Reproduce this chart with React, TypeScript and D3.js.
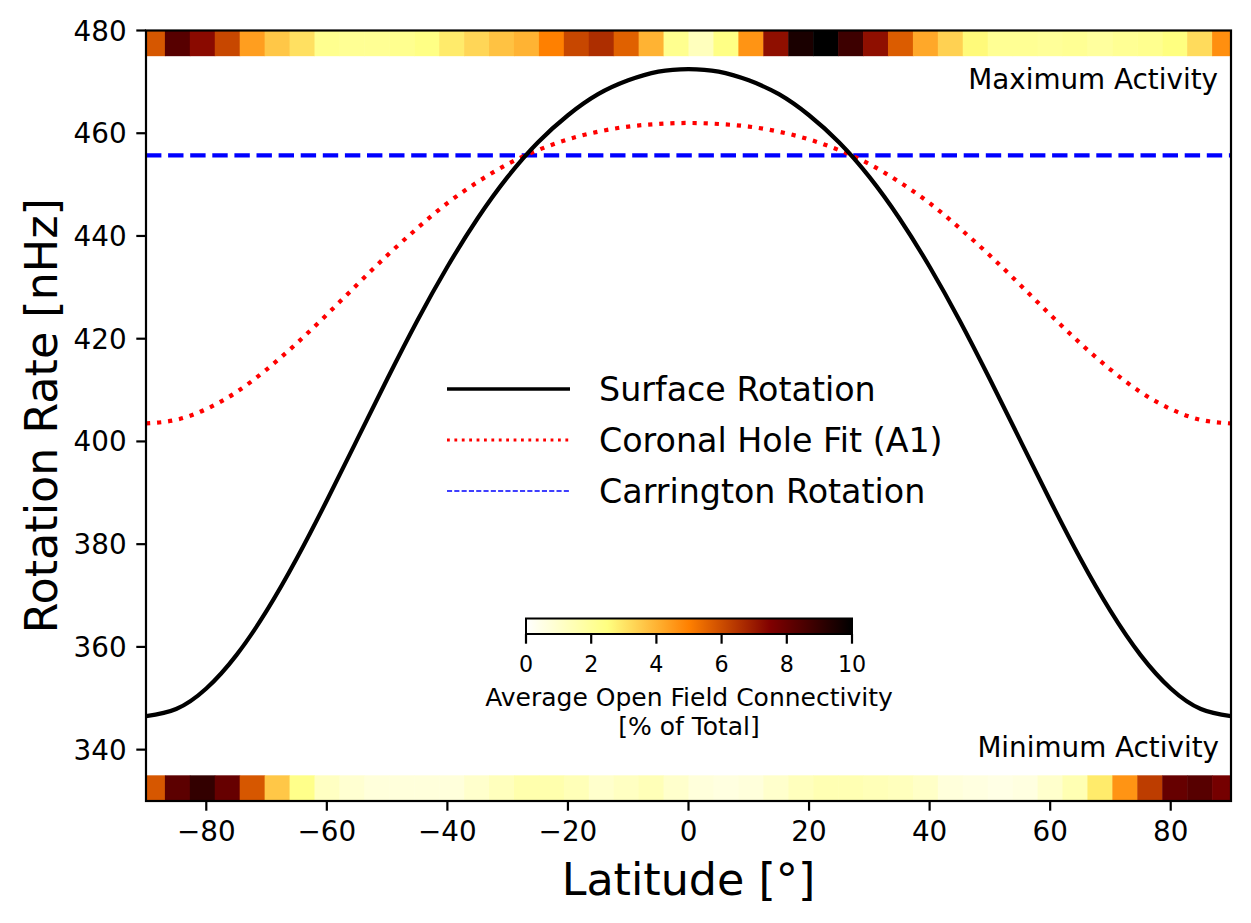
import React from "react";
import * as d3 from "d3";

// Latitude samples (degrees) for the rotation profiles
const LAT_SAMPLES = [
  -90, -85, -80, -75, -70, -65, -60, -55, -50, -45, -40, -35, -30, -25, -20, -15, -10, -5,
  0, 5, 10, 15, 20, 25, 30, 35, 40, 45, 50, 55, 60, 65, 70, 75, 80, 85, 90,
];

// Photospheric differential rotation [nHz]
const SURFACE_RATE = [
  346.5, 347.9, 351.9, 358.4, 367.0, 377.2, 388.5, 400.3, 412.1, 423.5, 434.0, 443.4, 451.5, 458.2, 463.5, 467.6, 470.3, 472.0,
  472.5, 472.0, 470.3, 467.6, 463.5, 458.2, 451.5, 443.4, 434.0, 423.5, 412.1, 400.3, 388.5, 377.2, 367.0, 358.4, 351.9, 347.9, 346.5,
];

// Coronal hole rotation fit (A1) [nHz]
const CORONAL_FIT_RATE = [
  403.5, 404.2, 406.3, 409.6, 414.0, 419.1, 424.7, 430.5, 436.2, 441.5, 446.4, 450.5, 454.0, 456.7, 458.8, 460.3, 461.3, 461.8,
  462.0, 461.8, 461.3, 460.3, 458.8, 456.7, 454.0, 450.5, 446.4, 441.5, 436.2, 430.5, 424.7, 419.1, 414.0, 409.6, 406.3, 404.2, 403.5,
];

const CARRINGTON_RATE = 455.7;

// Open-field connectivity [% of total] in latitude bins spanning BIN_LAT_START..BIN_LAT_END
const BIN_LAT_START = -91;
const BIN_LAT_END = 91;
const MAX_ACTIVITY_CONNECTIVITY = [
  5.8, 8.3, 7.3, 6.1, 4.4, 3.6, 3.1, 2.2, 2.1, 2.1, 2.2, 2.4, 2.9, 3.3, 3.7, 4.0, 5.0, 6.1, 6.6, 5.6, 4.0, 2.2,
  1.3, 2.4, 4.6, 7.2, 9.5, 10.0, 8.8, 7.2, 5.7, 4.2, 3.4, 2.6, 2.1, 2.1, 2.0, 2.1, 1.9, 2.1, 2.2, 2.5, 3.2, 4.7,
];
const MIN_ACTIVITY_CONNECTIVITY = [
  5.8, 8.2, 9.0, 8.0, 5.8, 3.6, 2.3, 1.2, 0.9, 0.7, 0.7, 0.7, 0.7, 1.0, 1.3, 1.6, 1.6, 1.4, 1.0, 1.2, 1.4, 1.0,
  0.7, 0.6, 0.7, 1.0, 1.3, 1.5, 1.5, 1.4, 1.3, 1.1, 0.7, 0.6, 0.5, 0.6, 1.0, 1.5, 2.9, 4.6, 6.3, 8.0, 8.3, 7.7,
];

const LAT_TICKS = [-80, -60, -40, -20, 0, 20, 40, 60, 80];
const RATE_TICKS = [340, 360, 380, 400, 420, 440, 460, 480];
const COLORBAR_TICKS = [0, 2, 4, 6, 8, 10];
const LEGEND_LABELS = ["Surface Rotation", "Coronal Hole Fit (A1)", "Carrington Rotation"];

const W = 1251;
const H = 923;
const M = { left: 146, right: 1231, top: 30.5, bottom: 801 };
const FONT = "DejaVu Sans, sans-serif";

// reversed "afmhot" colour map, 0 -> white, 10 -> black
function afmhotR(v: number): string {
  const t = 1 - Math.max(0, Math.min(10, v)) / 10;
  const c = (x: number) => Math.round(255 * Math.max(0, Math.min(1, x)));
  return `rgb(${c(2 * t)},${c(2 * t - 0.5)},${c(2 * t - 1)})`;
}

const fmt = (v: number) => (v < 0 ? "\u2212" + Math.abs(v) : String(v));

export default function App() {
  const x = d3.scaleLinear().domain([-90, 90]).range([M.left, M.right]);
  const y = d3.scaleLinear().domain([330, 480]).range([M.bottom, M.top]);

  const line = d3
    .line<number>()
    .x((_, i) => x(LAT_SAMPLES[i]))
    .y((d) => y(d))
    .curve(d3.curveNatural);

  const binWidth = (BIN_LAT_END - BIN_LAT_START) / MAX_ACTIVITY_CONNECTIVITY.length;

  const strip = (vals: number[], lo: number, hi: number, key: string) =>
    vals.map((v, i) => {
      const a = BIN_LAT_START + i * binWidth;
      const b = a + binWidth;
      return (
        <rect
          key={key + i}
          x={x(a)}
          width={x(b) - x(a) + 0.5}
          y={y(hi)}
          height={y(lo) - y(hi)}
          fill={afmhotR(v)}
        />
      );
    });

  // colorbar geometry
  const cb = d3.scaleLinear().domain([0, 10]).range([526, 852]);
  const cbTop = 618.5;
  const cbBottom = 634;
  const cbStops = d3.range(0, 10.01, 0.25);

  const legendX0 = 447;
  const legendX1 = 570;
  const legendY = [389, 440, 491];

  return (
    <svg
      width={W}
      height={H}
      viewBox={`0 0 ${W} ${H}`}
      style={{ position: "absolute", left: 0, top: 0, background: "#fff" }}
      fontFamily={FONT}
    >
      <defs>
        <clipPath id="plotArea">
          <rect x={M.left} y={M.top} width={M.right - M.left} height={M.bottom - M.top} />
        </clipPath>
        <linearGradient id="cbGrad" x1="0" x2="1" y1="0" y2="0">
          {cbStops.map((v) => (
            <stop key={v} offset={v / 10} stopColor={afmhotR(v)} />
          ))}
        </linearGradient>
      </defs>

      <rect x={0} y={0} width={W} height={H} fill="#fff" />

      <g clipPath="url(#plotArea)">
        {strip(MAX_ACTIVITY_CONNECTIVITY, 475, 480, "max")}
        {strip(MIN_ACTIVITY_CONNECTIVITY, 330, 335, "min")}

        <line
          x1={M.left}
          x2={M.right}
          y1={y(CARRINGTON_RATE)}
          y2={y(CARRINGTON_RATE)}
          stroke="#0000ff"
          strokeWidth={4.2}
          strokeDasharray="15.4 6.7"
        />
        <path
          d={line(CORONAL_FIT_RATE) || ""}
          fill="none"
          stroke="#ff0000"
          strokeWidth={4.2}
          strokeDasharray="4.2 6.9"
        />
        <path d={line(SURFACE_RATE) || ""} fill="none" stroke="#000" strokeWidth={4.2} />
      </g>

      {/* activity annotations */}
      <text x={1218} y={89} textAnchor="end" fontSize={27.8}>
        Maximum Activity
      </text>
      <text x={1219} y={757} textAnchor="end" fontSize={27.8}>
        Minimum Activity
      </text>

      {/* legend */}
      <line x1={legendX0} x2={legendX1} y1={legendY[0]} y2={legendY[0]} stroke="#000" strokeWidth={3.3} />
      <line
        x1={legendX0}
        x2={legendX1}
        y1={legendY[1]}
        y2={legendY[1]}
        stroke="#ff0000"
        strokeWidth={2.8}
        strokeDasharray="2.8 4.6"
      />
      <line
        x1={legendX0}
        x2={legendX1}
        y1={legendY[2]}
        y2={legendY[2]}
        stroke="#0000ff"
        strokeWidth={1.4}
        strokeDasharray="5.1 2.2"
      />
      {LEGEND_LABELS.map((t, i) => (
        <text key={t} x={599} y={legendY[i] + 12} fontSize={33.3}>
          {t}
        </text>
      ))}

      {/* colorbar */}
      <rect x={cb(0)} y={cbTop} width={cb(10) - cb(0)} height={cbBottom - cbTop} fill="url(#cbGrad)" stroke="#000" strokeWidth={2} />
      {COLORBAR_TICKS.map((t) => (
        <g key={"cb" + t}>
          <line x1={cb(t)} x2={cb(t)} y1={cbBottom} y2={cbBottom + 9.7} stroke="#000" strokeWidth={2.2} />
          <text x={cb(t)} y={cbBottom + 38} textAnchor="middle" fontSize={22.2}>
            {t}
          </text>
        </g>
      ))}
      <text x={689} y={706} textAnchor="middle" fontSize={25}>
        Average Open Field Connectivity
      </text>
      <text x={689} y={735} textAnchor="middle" fontSize={25}>
        [% of Total]
      </text>

      {/* axes frame */}
      <rect
        x={M.left}
        y={M.top}
        width={M.right - M.left}
        height={M.bottom - M.top}
        fill="none"
        stroke="#000"
        strokeWidth={2.2}
      />

      {/* x axis */}
      {LAT_TICKS.map((t) => (
        <g key={"x" + t}>
          <line x1={x(t)} x2={x(t)} y1={M.bottom} y2={M.bottom + 9.7} stroke="#000" strokeWidth={2.2} />
          <text x={x(t)} y={M.bottom + 40} textAnchor="middle" fontSize={27.8}>
            {fmt(t)}
          </text>
        </g>
      ))}
      <text x={(M.left + M.right) / 2} y={895} textAnchor="middle" fontSize={44.4}>
        Latitude [{"\u00b0"}]
      </text>

      {/* y axis */}
      {RATE_TICKS.map((t) => (
        <g key={"y" + t}>
          <line x1={M.left - 9.7} x2={M.left} y1={y(t)} y2={y(t)} stroke="#000" strokeWidth={2.2} />
          <text x={M.left - 19.4} y={y(t) + 10} textAnchor="end" fontSize={27.8}>
            {t}
          </text>
        </g>
      ))}
      <text
        transform={`translate(57,${(M.top + M.bottom) / 2}) rotate(-90)`}
        textAnchor="middle"
        fontSize={44.4}
      >
        Rotation Rate [nHz]
      </text>
    </svg>
  );
}
